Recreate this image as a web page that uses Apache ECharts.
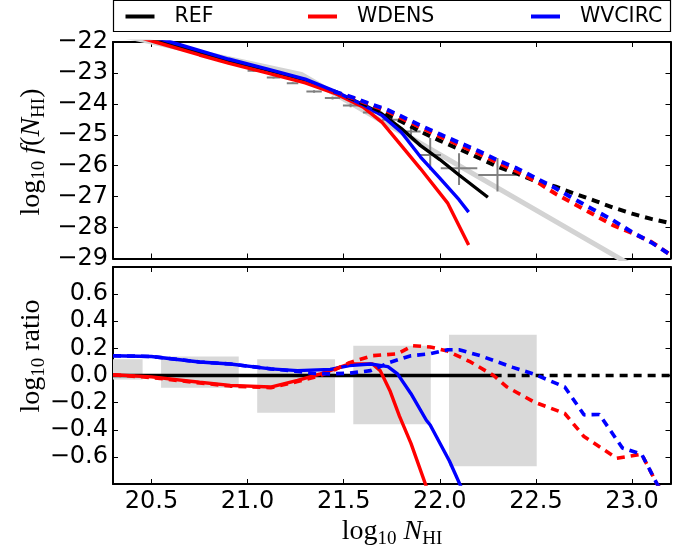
<!DOCTYPE html>
<html><head><meta charset="utf-8">
<script src="https://cdn.jsdelivr.net/npm/echarts@6/dist/echarts.min.js"></script>
<style>html,body{margin:0;padding:0;background:#fff}#c{width:689px;height:554px}</style>
</head><body><div id="c"></div>
<script>
// ---------- data ----------
const xTicks = [20.5, 21.0, 21.5, 22.0, 22.5, 23.0];
const legendNames = ['REF', 'WDENS', 'WVCIRC'];

// top panel: log10 f(N_HI)
const refSolid = [[20.3,-21.52],[20.56,-22.0],[20.9,-22.6],[21.1,-22.9],[21.3,-23.23],[21.45,-23.6],[21.6,-24.02],[21.7,-24.33],[21.8,-24.8],[21.9,-25.35],[22.0,-25.8],[22.1,-26.3],[22.25,-27.02]];
const wdensSolid = [[20.3,-21.6],[20.52,-22.0],[20.75,-22.42],[20.9,-22.68],[21.1,-23.0],[21.3,-23.32],[21.45,-23.65],[21.6,-24.1],[21.7,-24.6],[21.8,-25.35],[21.9,-26.1],[22.04,-27.2],[22.15,-28.56]];
const wvcircSolid = [[20.3,-21.45],[20.6,-22.0],[20.9,-22.55],[21.1,-22.87],[21.3,-23.2],[21.45,-23.58],[21.6,-24.03],[21.7,-24.38],[21.8,-24.92],[21.9,-25.72],[22.0,-26.4],[22.1,-27.1],[22.15,-27.5]];
const refDash = [[21.45,-23.6],[21.55,-23.85],[21.65,-24.12],[21.72,-24.33],[21.8,-24.57],[21.9,-24.9],[22.0,-25.19],[22.1,-25.46],[22.2,-25.74],[22.3,-26.03],[22.4,-26.25],[22.5,-26.5],[22.6,-26.67],[22.7,-26.9],[22.8,-27.12],[22.9,-27.35],[23.0,-27.55],[23.1,-27.72],[23.2,-27.86]];
const wdensDash = [[21.45,-23.62],[21.55,-23.82],[21.65,-24.06],[21.72,-24.22],[21.8,-24.46],[21.9,-24.76],[22.0,-25.05],[22.1,-25.33],[22.2,-25.6],[22.3,-25.9],[22.4,-26.18],[22.5,-26.5],[22.6,-26.9],[22.7,-27.24],[22.8,-27.58],[22.9,-27.92],[23.0,-28.18],[23.1,-28.46],[23.2,-28.88]];
const wvcircDash = [[21.45,-23.6],[21.55,-23.8],[21.65,-24.03],[21.72,-24.17],[21.8,-24.4],[21.9,-24.7],[22.0,-24.98],[22.1,-25.25],[22.2,-25.52],[22.3,-25.82],[22.4,-26.08],[22.5,-26.4],[22.6,-26.72],[22.7,-27.08],[22.8,-27.42],[22.9,-27.76],[23.0,-28.15],[23.1,-28.48],[23.2,-28.88]];
const fitLine = [[20.3,-21.73],[21.28,-23.05],[23.2,-29.95]];

// observational points with error bars
const obsX    = [21.03, 21.135, 21.234, 21.346, 21.442, 21.536, 21.65, 21.75, 21.85, 21.95, 22.1, 22.3];
const obsY    = [-22.93, -23.15, -23.33, -23.6, -23.81, -24.05, -24.28, -24.51, -24.89, -25.65, -26.08, -26.3];
const obsXerr = [0.03, 0.035, 0.03, 0.04, 0.04, 0.04, 0.05, 0.05, 0.05, 0.056, 0.095, 0.1];
const obsYlo  = [0.03, 0.03, 0.03, 0.04, 0.05, 0.06, 0.08, 0.1, 0.21, 0.48, 0.54, 0.53];
const obsYhi  = [0.03, 0.03, 0.03, 0.04, 0.05, 0.06, 0.08, 0.1, 0.16, 0.55, 0.48, 0.55];

// bottom panel: log10 ratio
const refRatioSolid = [[20.3,0],[22.28,0]];
const refRatioDash  = [[22.28,0],[23.2,0]];
const wdensRatioSolid = [[20.3,0.005],[20.5,-0.01],[20.75,-0.05],[20.91,-0.073],[21.12,-0.085],[21.26,-0.036],[21.38,0.012],[21.53,0.085],[21.65,0.085],[21.69,0.036],[21.74,-0.11],[21.79,-0.3],[21.85,-0.5],[21.93,-0.82]];
const wvcircRatioSolid = [[20.3,0.146],[20.5,0.14],[20.75,0.1],[20.91,0.085],[21.12,0.049],[21.26,0.036],[21.43,0.045],[21.53,0.073],[21.64,0.085],[21.73,0.065],[21.78,0.012],[21.85,-0.134],[21.93,-0.33],[21.95,-0.365],[22.05,-0.63],[22.11,-0.82]];
const wdensRatioDash = [[20.3,0.005],[20.5,-0.015],[20.75,-0.055],[20.91,-0.078],[21.12,-0.09],[21.26,-0.045],[21.38,0.0],[21.45,0.04],[21.53,0.095],[21.65,0.146],[21.78,0.16],[21.86,0.22],[21.95,0.21],[22.04,0.18],[22.16,0.1],[22.28,0.0],[22.35,-0.085],[22.49,-0.195],[22.65,-0.28],[22.75,-0.45],[22.92,-0.61],[23.05,-0.58],[23.13,-0.8],[23.16,-0.86]];
const wvcircRatioDash = [[20.3,0.146],[20.5,0.14],[20.75,0.1],[20.91,0.085],[21.12,0.049],[21.26,0.03],[21.35,0.015],[21.43,0.012],[21.53,0.017],[21.64,0.036],[21.74,0.097],[21.85,0.146],[21.95,0.16],[22.04,0.19],[22.1,0.19],[22.21,0.146],[22.38,0.06],[22.5,0.005],[22.65,-0.085],[22.75,-0.29],[22.83,-0.287],[22.95,-0.535],[23.05,-0.58],[23.13,-0.8],[23.16,-0.86]];

// grey uncertainty boxes: [xmin, xmax, ymin, ymax]
const ratioBoxes = [[20.05,20.454,-0.03,0.12],[20.55,20.954,-0.09,0.14],[21.05,21.455,-0.275,0.12],[21.55,21.953,-0.36,0.22],[22.048,22.504,-0.67,0.30]];

// ---------- chart ----------
const chart = echarts.init(document.getElementById('c'), null, {renderer:'canvas'});
const C = {REF:'#000000', WDENS:'#ff0000', WVCIRC:'#0000ff'};
const DASH = [8, 6];
const tickFont = {fontFamily:'DejaVu Sans', fontSize:24, color:'#000'};
const minus = v => (v < -1e-9 ? '\u2212' : '');

function xAx(grid, pos, labels) {
  return {type:'value', gridIndex:grid, position:pos, min:20.3, max:23.2,
    axisLine:{show:true, onZero:false, lineStyle:{color:'#000', width:2}},
    axisTick:{show:true, inside:true, length:5, customValues:xTicks, lineStyle:{color:'#000', width:1}},
    axisLabel:{show:labels, customValues:xTicks, margin:6, formatter:v=>v.toFixed(1), ...tickFont},
    splitLine:{show:false}};
}
function yAx(grid, pos, labels, min, max, interval, fmt) {
  return {type:'value', gridIndex:grid, position:pos, min:min, max:max, interval:interval,
    axisLine:{show:true, onZero:false, lineStyle:{color:'#000', width:2}},
    axisTick:{show:true, inside:true, length:5, lineStyle:{color:'#000', width:1}},
    axisLabel:{show:labels, margin:5, formatter:fmt, ...tickFont},
    splitLine:{show:false}};
}
function line(name, data, color, dashed, xi, yi, z, width) {
  return {type:'line', name:name, data:data, xAxisIndex:xi, yAxisIndex:yi, symbol:'none', showSymbol:false,
    color:color, clip:true, z:z, silent:true,
    lineStyle:{color:color, width:width || 3.4, type: dashed ? DASH : 'solid'}};
}

const R = {
  a:{fontFamily:'Liberation Serif', fontSize:28, lineHeight:34, color:'#000'},
  i:{fontFamily:'Liberation Serif', fontSize:28, lineHeight:34, fontStyle:'italic', color:'#000'},
  s:{fontFamily:'Liberation Serif', fontSize:19, lineHeight:19, verticalAlign:'bottom', color:'#000'}
};
function label(text, x, y, rot) {
  return {type:'text', x:x, y:y, rotation:rot, z:10,
    style:{text:text, rich:R, fontFamily:'Liberation Serif', fontSize:28, align:'center', verticalAlign:'middle', textAlign:'center', textVerticalAlign:'middle'}};
}

function legendItem(name, left) {
  return {data:[name], left:left, top:6, padding:0, itemWidth:29, itemHeight:4, icon:'rect', selectedMode:false, z:5,
    textStyle:{fontFamily:'DejaVu Sans', fontSize:20.5, color:'#000', padding:[0,0,0,15]}};
}

const option = {
  animation:false,
  backgroundColor:'#fff',
  grid:[
    {left:113, top:42, width:557.5, height:216.5},
    {left:113, top:267, width:557.5, height:217}
  ],
  xAxis:[xAx(0,'bottom',false), xAx(0,'top',false), xAx(1,'bottom',true), xAx(1,'top',false)],
  yAxis:[
    yAx(0,'left',true,-29,-22,1, v=>minus(v)+Math.abs(v).toFixed(0)),
    yAx(0,'right',false,-29,-22,1),
    yAx(1,'left',true,-0.8,0.8,0.2, v=>Math.abs(v)>0.75 ? '' : minus(v)+Math.abs(v).toFixed(1)),
    yAx(1,'right',false,-0.8,0.8,0.2)
  ],
  legend:[legendItem('REF',125.5), legendItem('WDENS',308), legendItem('WVCIRC',531)],
  graphic:[
    {type:'rect', shape:{x:113.5, y:0.5, width:557, height:31}, style:{fill:'#fff', stroke:'#000', lineWidth:1.2}, z:0},
    label('{a|log}{s|10}{a| }{i|f}{a|(}{i|N}{s|HI}{a|)}', 32, 152, Math.PI/2),
    label('{a|log}{s|10}{a| ratio}', 32, 356, Math.PI/2),
    label('{a|log}{s|10}{a| }{i|N}{s|HI}', 392, 532, 0)
  ],
  series:[
    line('fit', fitLine, '#d3d3d3', false, 0, 0, 1, 5),
    {type:'custom', name:'obs', xAxisIndex:0, yAxisIndex:0, z:2, silent:true, clip:true,
      data: obsX.map((x,i)=>[x, obsY[i], obsXerr[i], obsYlo[i], obsYhi[i]]),
      encode:{x:0, y:1},
      renderItem:function(params, api){
        const x=api.value(0), y=api.value(1), xe=api.value(2), yl=api.value(3), yh=api.value(4);
        const pL=api.coord([x-xe,y]), pR=api.coord([x+xe,y]), pT=api.coord([x,y+yh]), pB=api.coord([x,y-yl]);
        const st={stroke:'#808080', lineWidth:2};
        return {type:'group', children:[
          {type:'line', shape:{x1:pL[0],y1:pL[1],x2:pR[0],y2:pR[1]}, style:st},
          {type:'line', shape:{x1:pT[0],y1:pT[1],x2:pB[0],y2:pB[1]}, style:st}
        ]};
      }},
    line('REF', refSolid, C.REF, false, 0, 0, 3),
    line('WDENS', wdensSolid, C.WDENS, false, 0, 0, 3),
    line('WVCIRC', wvcircSolid, C.WVCIRC, false, 0, 0, 3),
    line('refDash', refDash, C.REF, true, 0, 0, 4, 4),
    line('wdensDash', wdensDash, C.WDENS, true, 0, 0, 4, 4),
    line('wvcircDash', wvcircDash, C.WVCIRC, true, 0, 0, 4, 4),

    {type:'custom', name:'boxes', xAxisIndex:2, yAxisIndex:2, z:1, silent:true, clip:true,
      data: ratioBoxes, encode:{x:[0,1], y:[2,3]},
      renderItem:function(params, api){
        const p1=api.coord([api.value(0), api.value(3)]), p2=api.coord([api.value(1), api.value(2)]);
        const r = echarts.graphic.clipRectByRect({x:p1[0], y:p1[1], width:p2[0]-p1[0], height:p2[1]-p1[1]},
          {x:params.coordSys.x, y:params.coordSys.y, width:params.coordSys.width, height:params.coordSys.height});
        return r && {type:'rect', shape:r, style:{fill:'#d9d9d9'}};
      }},
    line('refRatio', refRatioSolid, C.REF, false, 2, 2, 3),
    line('refRatioDash', refRatioDash, C.REF, true, 2, 2, 3, 3.4),
    line('wdensRatio', wdensRatioSolid, C.WDENS, false, 2, 2, 3),
    line('wvcircRatio', wvcircRatioSolid, C.WVCIRC, false, 2, 2, 3),
    line('wdensRatioDash', wdensRatioDash, C.WDENS, true, 2, 2, 4, 3.6),
    line('wvcircRatioDash', wvcircRatioDash, C.WVCIRC, true, 2, 2, 4, 3.6)
  ]
};
chart.setOption(option);
</script>
</body></html>
